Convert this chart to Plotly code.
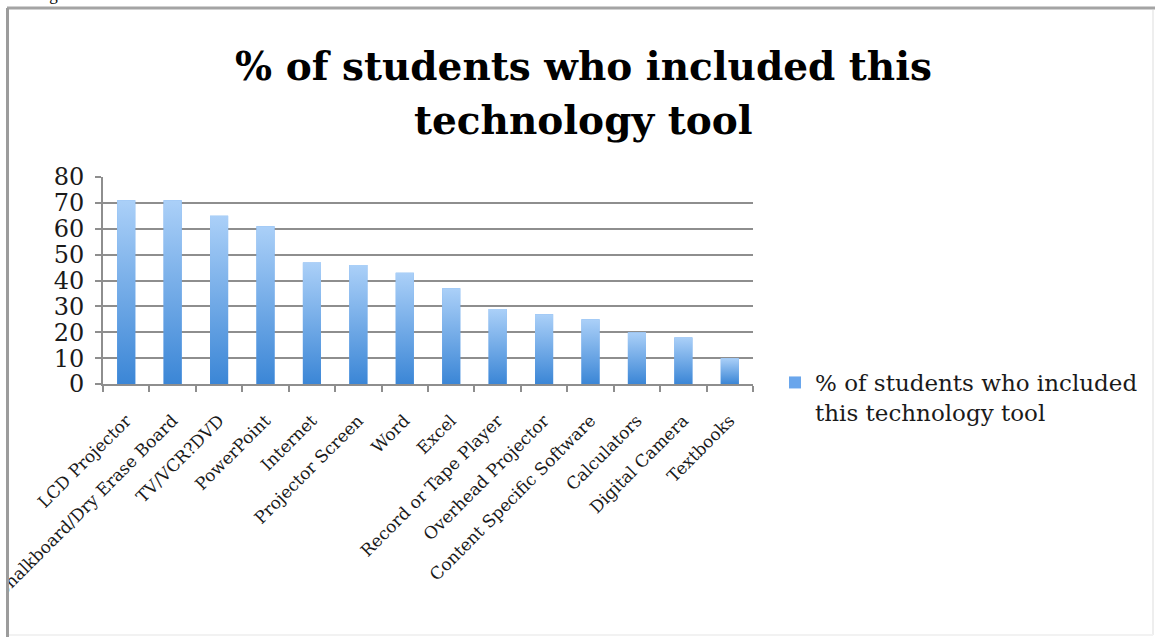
import plotly.graph_objects as go

# Technology tools and share of students who included each one
tools = [
    "LCD Projector", "Chalkboard/Dry Erase Board", "TV/VCR?DVD", "PowerPoint",
    "Internet", "Projector Screen", "Word", "Excel", "Record or Tape Player",
    "Overhead Projector", "Content Specific Software", "Calculators",
    "Digital Camera", "Textbooks",
]
percent = [71, 71, 65, 61, 47, 46, 43, 37, 29, 27, 25, 20, 18, 10]
y_ticks = [0, 10, 20, 30, 40, 50, 60, 70, 80]
series_name = "% of students who included<br>this technology tool"
title_lines = ["% of students who included this", "technology tool"]

W, H = 1158, 637
ML, MR, MT, MB = 103, 405, 177, 253
PW, PH = W - ML - MR, H - MT - MB
BAR_W = 0.39
SERIF = "DejaVu Serif"
TOP_BLUE, BOTTOM_BLUE = "#abd0f8", "#3b86d6"


def px_x(px):
    return (px - ML) / PW


def px_y(py):
    return (H - MB - py) / PH


idx = list(range(len(tools)))
fig = go.Figure()

# base bars (carry the legend entry)
fig.add_trace(go.Bar(
    x=idx, y=percent, width=BAR_W, name=series_name,
    marker=dict(color="#6aa6ec", line=dict(width=0)),
    showlegend=True,
))

# vertical gradient on each bar
for i, v in zip(idx, percent):
    fig.add_trace(go.Scatter(
        x=[i - BAR_W / 2, i + BAR_W / 2, i + BAR_W / 2, i - BAR_W / 2, i - BAR_W / 2],
        y=[0, 0, v, v, 0],
        mode="lines", line=dict(width=0), fill="toself",
        fillgradient=dict(type="vertical",
                          colorscale=[[0, BOTTOM_BLUE], [1, TOP_BLUE]]),
        showlegend=False, hoverinfo="skip",
    ))

grid = "#8e8e8e"
fig.update_layout(
    width=W, height=H,
    margin=dict(l=ML, r=MR, t=MT, b=MB, pad=0, autoexpand=False),
    paper_bgcolor="white", plot_bgcolor="white",
    xaxis=dict(
        range=[-0.5, len(tools) - 0.5], tickmode="array", tickvals=idx,
        ticktext=tools, tickangle=-45, ticks="", ticklabeloverflow="allow",
        ticklabelstandoff=18, automargin=False,
        tickfont=dict(family=SERIF, size=17, color="#1a1a1a"),
        showgrid=False, zeroline=False, showline=True, linecolor=grid, linewidth=2,
        minor=dict(tickmode="linear", tick0=0.5, dtick=1, ticks="outside",
                   ticklen=6, tickcolor=grid, tickwidth=1.5, showgrid=False),
        fixedrange=True,
    ),
    yaxis=dict(
        range=[0, 80], tickmode="array", tickvals=y_ticks, automargin=False,
        ticks="outside", ticklen=6, tickcolor=grid, tickwidth=1.5,
        tickfont=dict(family=SERIF, size=24, color="#1a1a1a"),
        showgrid=True, gridcolor=grid, gridwidth=1.5, zeroline=False,
        showline=True, linecolor=grid, linewidth=2, ticklabelstandoff=6,
    ),
    legend=dict(x=px_x(775), xanchor="left", y=px_y(361), yanchor="top",
                valign="top", bgcolor="rgba(0,0,0,0)",
                font=dict(family=SERIF, size=23, color="#1a1a1a")),
    bargap=0.6,
    showlegend=True,
)

# two-line chart title
for line, mid in zip(title_lines, [66, 120]):
    fig.add_annotation(text=line, xref="paper", yref="paper",
                       x=px_x(583), xanchor="center", y=px_y(mid), yanchor="middle",
                       showarrow=False,
                       font=dict(family=SERIF, size=39, color="#000000", weight="bold"))

# page frame around the chart, with white mask beyond its left edge
fig.add_shape(type="rect", xref="paper", yref="paper", layer="above",
              x0=px_x(-5), x1=px_x(7), y0=px_y(H + 5), y1=px_y(-5),
              fillcolor="white", line=dict(width=0))
fig.add_shape(type="line", xref="paper", yref="paper", layer="above",
              x0=px_x(7), x1=px_x(1155), y0=px_y(8), y1=px_y(8),
              line=dict(color="#a4a4a4", width=3))
fig.add_shape(type="line", xref="paper", yref="paper", layer="above",
              x0=px_x(7.5), x1=px_x(7.5), y0=px_y(8), y1=px_y(H),
              line=dict(color="#9c9c9c", width=3))
fig.add_shape(type="line", xref="paper", yref="paper", layer="above",
              x0=px_x(1153), x1=px_x(1153), y0=px_y(10), y1=px_y(635),
              line=dict(color="#eeeeee", width=2))
fig.add_shape(type="line", xref="paper", yref="paper", layer="above",
              x0=px_x(9), x1=px_x(1153), y0=px_y(635), y1=px_y(635),
              line=dict(color="#f2f2f2", width=2))

# running text of the page just above the frame
fig.add_annotation(text="drawings", xref="paper", yref="paper",
                   x=px_x(0), xanchor="left", y=px_y(6), yanchor="bottom",
                   showarrow=False, font=dict(family="Liberation Serif", size=17, color="#000000"))

fig.write_html("out.html")
